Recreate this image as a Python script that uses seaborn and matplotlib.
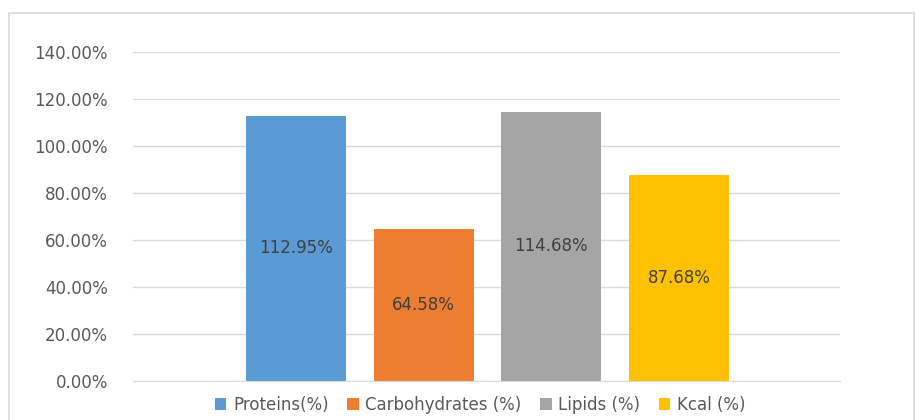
import pandas as pd
import numpy as np
import seaborn as sns
import matplotlib.pyplot as plt
from matplotlib.ticker import PercentFormatter, MultipleLocator
from matplotlib.patches import Rectangle, Patch

series = ['Proteins(%)', 'Carbohydrates (%)', 'Lipids (%)', 'Kcal (%)']
values = [1.1295, 0.6458, 1.1468, 0.8768]
colors = ['#5B9BD5', '#ED7D31', '#A5A5A5', '#FFC000']

df = pd.DataFrame({'series': series, 'value': values})

sns.set_style("white")
plt.rcParams['font.family'] = ['DejaVu Sans']

fig = plt.figure(figsize=(9.15, 4.2), dpi=100)
ax = fig.add_axes([133/915, 39/420, 707/915, 329/420])

sns.barplot(data=df, x='series', y='value', hue='series', palette=colors,
            dodge=False, width=0.784, legend=False, ax=ax, saturation=1,
            edgecolor='none')

for c in ax.containers:
    ax.bar_label(c, labels=[f'{v*100:.2f}%' for v in c.datavalues],
                 label_type='center', color='#404040', fontsize=12)

ax.set_xlim(-1.278, 4.263)
ax.set_ylim(0, 1.4)
ax.yaxis.set_major_locator(MultipleLocator(0.2))
ax.yaxis.set_major_formatter(PercentFormatter(xmax=1, decimals=2))
ax.grid(axis='y', color='#D9D9D9', linewidth=1)
ax.set_axisbelow(True)
ax.set_xticks([])
ax.set_xlabel('')
ax.set_ylabel('')
for s in ['top', 'right', 'left']:
    ax.spines[s].set_visible(False)
ax.spines['bottom'].set_color('#D9D9D9')
ax.tick_params(axis='y', length=0, pad=18, labelsize=12, labelcolor='#595959')

handles = [Patch(facecolor=c, edgecolor='none') for c in colors]
fig.legend(handles, series, loc='center', bbox_to_anchor=(480/915, 1 - 405/420),
           ncol=4, frameon=False, fontsize=12, labelcolor='#595959',
           handlelength=0.7, handleheight=0.7, handletextpad=0.4, columnspacing=1.1)

fig.patches.append(Rectangle((9/915, -0.01), 905/915, 1.01 - 13/420,
                             transform=fig.transFigure, fill=False,
                             edgecolor='#D9D9D9', linewidth=1.2))

fig.savefig('out.png', dpi=100)
